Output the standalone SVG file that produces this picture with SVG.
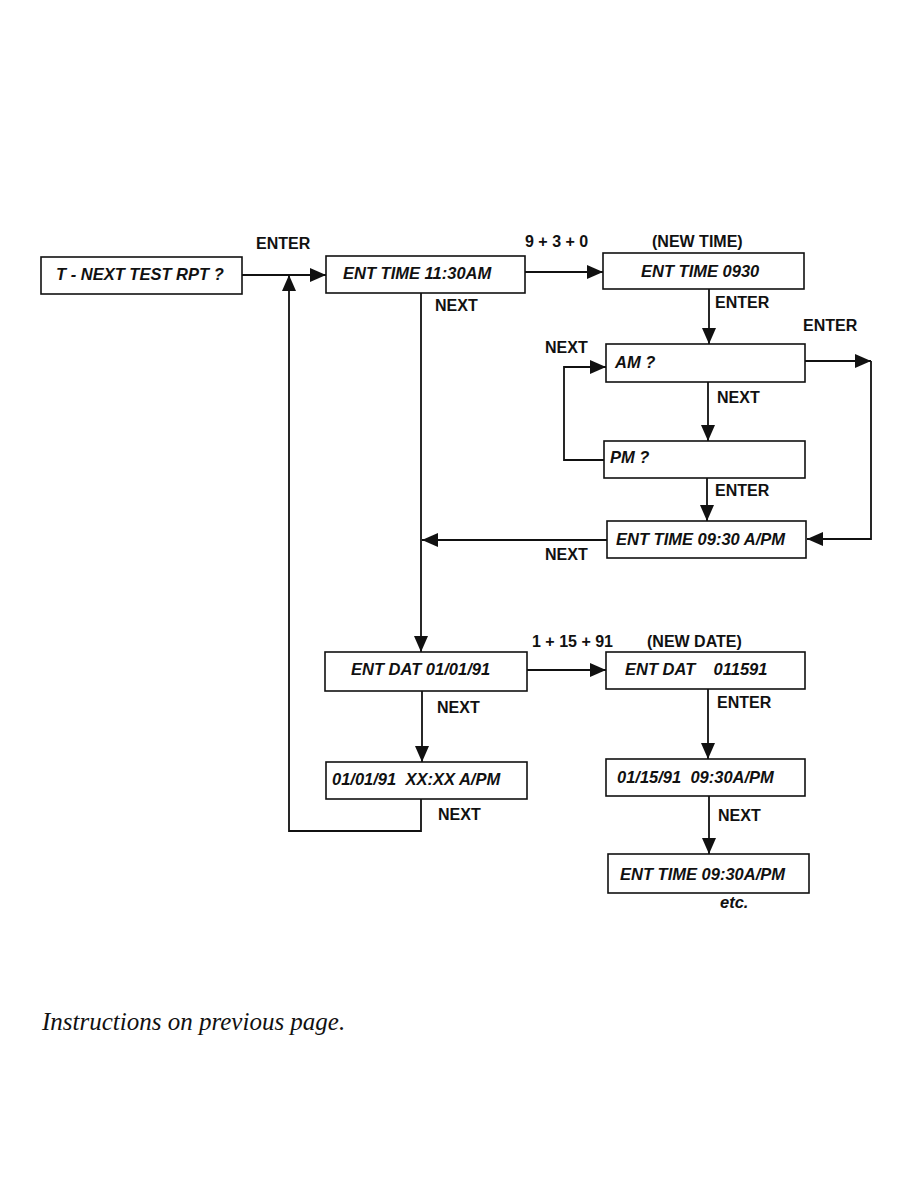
<svg xmlns="http://www.w3.org/2000/svg" width="918" height="1188" viewBox="0 0 918 1188">
<style>
.box{fill:#fff;stroke:#111;stroke-width:1.6}
.bt{font-family:"Liberation Sans",Arial,sans-serif;font-weight:bold;font-style:italic;font-size:16.5px;fill:#111}
.lb{font-family:"Liberation Sans",Arial,sans-serif;font-weight:bold;font-size:16px;fill:#111}
.ln{fill:none;stroke:#111;stroke-width:1.8}
.note{font-family:"Liberation Serif","Times New Roman",serif;font-style:italic;font-size:25px;fill:#111}
</style>
<defs>
<marker id="ah" viewBox="0 0 16 14" refX="16" refY="7" markerWidth="16" markerHeight="14" markerUnits="userSpaceOnUse" orient="auto">
<path d="M0,0 L16,7 L0,14 Z" fill="#111"/>
</marker>
</defs>
<rect width="918" height="1188" fill="#fff"/>
<g id="connectors">
<polyline class="ln" points="242,275 326,275" marker-end="url(#ah)"/>
<polyline class="ln" points="525,272 603,272" marker-end="url(#ah)"/>
<polyline class="ln" points="709,289 709,344" marker-end="url(#ah)"/>
<polyline class="ln" points="805,361 871,361" marker-end="url(#ah)"/>
<polyline class="ln" points="871,361 871,539 807,539" marker-end="url(#ah)"/>
<polyline class="ln" points="708,382 708,441" marker-end="url(#ah)"/>
<polyline class="ln" points="604,460 564,460 564,367 606,367" marker-end="url(#ah)"/>
<polyline class="ln" points="707,478 707,521" marker-end="url(#ah)"/>
<polyline class="ln" points="607,540 422,540" marker-end="url(#ah)"/>
<polyline class="ln" points="421,293 421,652" marker-end="url(#ah)"/>
<polyline class="ln" points="527,670 606,670" marker-end="url(#ah)"/>
<polyline class="ln" points="422,691 422,762" marker-end="url(#ah)"/>
<polyline class="ln" points="421,799 421,831 289,831 289,275" marker-end="url(#ah)"/>
<polyline class="ln" points="708,689 708,759" marker-end="url(#ah)"/>
<polyline class="ln" points="709,796 709,854" marker-end="url(#ah)"/>
</g>
<g id="labels">
<text class="lb" x="256" y="249">ENTER</text>
<text class="lb" x="525" y="247">9 + 3 + 0</text>
<text class="lb" x="652" y="247">(NEW TIME)</text>
<text class="lb" x="435" y="311">NEXT</text>
<text class="lb" x="715" y="308">ENTER</text>
<text class="lb" x="803" y="331">ENTER</text>
<text class="lb" x="545" y="353">NEXT</text>
<text class="lb" x="717" y="403">NEXT</text>
<text class="lb" x="715" y="496">ENTER</text>
<text class="lb" x="545" y="560">NEXT</text>
<text class="lb" x="532" y="647">1 + 15 + 91</text>
<text class="lb" x="647" y="647">(NEW DATE)</text>
<text class="lb" x="437" y="713">NEXT</text>
<text class="lb" x="717" y="708">ENTER</text>
<text class="lb" x="438" y="820">NEXT</text>
<text class="lb" x="718" y="821">NEXT</text>
<text class="bt" x="720" y="908">etc.</text>
</g>
<g id="n-test-rpt"><rect class="box" x="41" y="257" width="201" height="37"/><text class="bt" x="56" y="280">T - NEXT TEST RPT ?</text></g>
<g id="n-ent-time-1130"><rect class="box" x="326" y="256" width="199" height="37"/><text class="bt" x="343" y="279">ENT TIME 11:30AM</text></g>
<g id="n-ent-time-0930"><rect class="box" x="603" y="253" width="201" height="36"/><text class="bt" x="641" y="277">ENT TIME 0930</text></g>
<g id="n-am"><rect class="box" x="606" y="344" width="199" height="38"/><text class="bt" x="615" y="368">AM ?</text></g>
<g id="n-pm"><rect class="box" x="604" y="441" width="201" height="37"/><text class="bt" x="610" y="463">PM ?</text></g>
<g id="n-ent-time-apm"><rect class="box" x="607" y="521" width="199" height="37"/><text class="bt" x="616" y="545">ENT TIME 09:30 A/PM</text></g>
<g id="n-ent-dat-010191"><rect class="box" x="325" y="652" width="202" height="39"/><text class="bt" x="351" y="675">ENT DAT 01/01/91</text></g>
<g id="n-date-time"><rect class="box" x="326" y="762" width="201" height="37"/><text class="bt" x="332" y="785" xml:space="preserve">01/01/91  XX:XX A/PM</text></g>
<g id="n-ent-dat-011591"><rect class="box" x="606" y="652" width="199" height="37"/><text class="bt" x="625" y="675" xml:space="preserve">ENT DAT    011591</text></g>
<g id="n-new-date-time"><rect class="box" x="606" y="759" width="199" height="37"/><text class="bt" x="617" y="783" xml:space="preserve">01/15/91  09:30A/PM</text></g>
<g id="n-ent-time-final"><rect class="box" x="608" y="854" width="201" height="39"/><text class="bt" x="620" y="880">ENT TIME 09:30A/PM</text></g>
<text class="note" x="42" y="1030">Instructions on previous page.</text>
</svg>
